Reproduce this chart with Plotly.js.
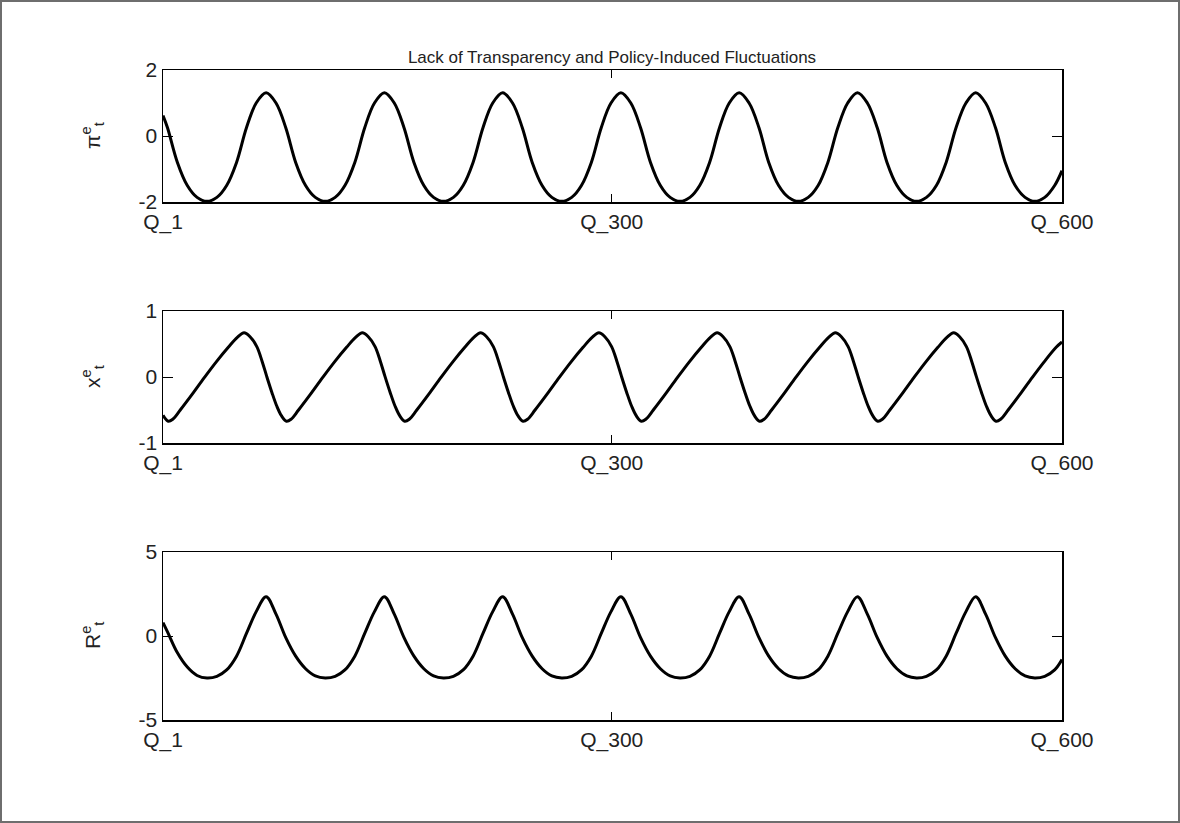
<!DOCTYPE html>
<html><head><meta charset="utf-8">
<script src="https://cdn.plot.ly/plotly-3.0.1.min.js"></script>
<style>
html,body{margin:0;padding:0;background:#fff;}
#chart{width:1180px;height:823px;}
#frame{position:absolute;left:0;top:0;width:1180px;height:823px;box-sizing:border-box;border:2px solid #6e6e6e;pointer-events:none;}
</style></head><body>
<div id="chart"></div><div id="frame"></div>
<script>
// Quarter positions read for the pi and R panels
const quartersPiR = [1, 4.0, 10.6, 17.2, 23.7, 30.3, 36.9, 43.4, 50.0, 56.6, 63.1, 69.7, 76.3,
  82.8, 89.4, 96.0, 102.5, 109.1, 115.7, 122.2, 128.8, 135.4, 141.9, 148.5, 155.1,
  161.6, 168.2, 174.8, 181.3, 187.9, 194.5, 201.0, 207.6, 214.2, 220.7, 227.3, 233.9,
  240.4, 247.0, 253.6, 260.1, 266.7, 273.3, 279.8, 286.4, 293.0, 299.5, 306.1, 312.7,
  319.2, 325.8, 332.4, 338.9, 345.5, 352.1, 358.6, 365.2, 371.8, 378.3, 384.9, 391.5,
  398.1, 404.6, 411.2, 417.8, 424.3, 430.9, 437.5, 444.0, 450.6, 457.2, 463.7, 470.3,
  476.9, 483.4, 490.0, 496.6, 503.1, 509.7, 516.3, 522.8, 529.4, 536.0, 542.5, 549.1,
  555.7, 562.2, 568.8, 575.4, 581.9, 588.5, 595.1, 600];

const piValues = [0.62,
  0.25, -0.8, -1.5, -1.86, -1.98, -1.86, -1.5, -0.8, 0.25, 1.0, 1.31, 1.0,
  0.25, -0.8, -1.5, -1.86, -1.98, -1.86, -1.5, -0.8, 0.25, 1.0, 1.31, 1.0,
  0.25, -0.8, -1.5, -1.86, -1.98, -1.86, -1.5, -0.8, 0.25, 1.0, 1.31, 1.0,
  0.25, -0.8, -1.5, -1.86, -1.98, -1.86, -1.5, -0.8, 0.25, 1.0, 1.31, 1.0,
  0.25, -0.8, -1.5, -1.86, -1.98, -1.86, -1.5, -0.8, 0.25, 1.0, 1.31, 1.0,
  0.25, -0.8, -1.5, -1.86, -1.98, -1.86, -1.5, -0.8, 0.25, 1.0, 1.31, 1.0,
  0.25, -0.8, -1.5, -1.86, -1.98, -1.86, -1.5, -0.8, 0.25, 1.0, 1.31, 1.0,
  0.25, -0.8, -1.5, -1.86, -1.98, -1.86, -1.5,
  -1.05];

const rValues = [0.8,
  0.25, -1.0, -1.85, -2.35, -2.5, -2.4, -2.02, -1.2, 0.15, 1.45, 2.34, 1.3,
  -0.1, -1.2, -1.95, -2.38, -2.5, -2.4, -2.02, -1.2, 0.15, 1.45, 2.34, 1.3,
  -0.1, -1.2, -1.95, -2.38, -2.5, -2.4, -2.02, -1.2, 0.15, 1.45, 2.34, 1.3,
  -0.1, -1.2, -1.95, -2.38, -2.5, -2.4, -2.02, -1.2, 0.15, 1.45, 2.34, 1.3,
  -0.1, -1.2, -1.95, -2.38, -2.5, -2.4, -2.02, -1.2, 0.15, 1.45, 2.34, 1.3,
  -0.1, -1.2, -1.95, -2.38, -2.5, -2.4, -2.02, -1.2, 0.15, 1.45, 2.34, 1.3,
  -0.1, -1.2, -1.95, -2.38, -2.5, -2.4, -2.02, -1.2, 0.15, 1.45, 2.34, 1.3,
  -0.1, -1.2, -1.95, -2.38, -2.5, -2.4, -2.02,
  -1.4];

// Quarter positions read for the x (output gap) panel
const quartersX = [1,
  4.5, 7.5, 12.5, 20.5, 28.5, 36.5, 44.5, 50.5, 55.0, 59.0, 63.5, 67.0, 70.1, 73.5, 76.8, 80.0,
  83.3, 86.3, 91.3, 99.3, 107.3, 115.3, 123.3, 129.3, 133.8, 137.8, 142.3, 145.8, 148.9, 152.3, 155.6, 158.8,
  162.1, 165.1, 170.1, 178.1, 186.1, 194.1, 202.1, 208.1, 212.6, 216.6, 221.1, 224.6, 227.7, 231.1, 234.4, 237.6,
  240.9, 243.9, 248.9, 256.9, 264.9, 272.9, 280.9, 286.9, 291.4, 295.4, 299.9, 303.4, 306.5, 309.9, 313.2, 316.4,
  319.7, 322.7, 327.7, 335.7, 343.7, 351.7, 359.7, 365.7, 370.2, 374.2, 378.7, 382.2, 385.3, 388.7, 392.0, 395.2,
  398.5, 401.5, 406.5, 414.5, 422.5, 430.5, 438.5, 444.5, 449.0, 453.0, 457.5, 461.0, 464.1, 467.5, 470.8, 474.0,
  477.3, 480.3, 485.3, 493.3, 501.3, 509.3, 517.3, 523.3, 527.8, 531.8, 536.3, 539.8, 542.9, 546.3, 549.6, 552.8,
  556.1, 559.1, 564.1, 572.1, 580.1, 588.1, 596.1, 600];

const xValues = [-0.58,
  -0.67, -0.64, -0.50, -0.26, -0.01, 0.23, 0.45, 0.60, 0.67, 0.61, 0.46, 0.24, 0.01, -0.23, -0.44, -0.59,
  -0.67, -0.64, -0.50, -0.26, -0.01, 0.23, 0.45, 0.60, 0.67, 0.61, 0.46, 0.24, 0.01, -0.23, -0.44, -0.59,
  -0.67, -0.64, -0.50, -0.26, -0.01, 0.23, 0.45, 0.60, 0.67, 0.61, 0.46, 0.24, 0.01, -0.23, -0.44, -0.59,
  -0.67, -0.64, -0.50, -0.26, -0.01, 0.23, 0.45, 0.60, 0.67, 0.61, 0.46, 0.24, 0.01, -0.23, -0.44, -0.59,
  -0.67, -0.64, -0.50, -0.26, -0.01, 0.23, 0.45, 0.60, 0.67, 0.61, 0.46, 0.24, 0.01, -0.23, -0.44, -0.59,
  -0.67, -0.64, -0.50, -0.26, -0.01, 0.23, 0.45, 0.60, 0.67, 0.61, 0.46, 0.24, 0.01, -0.23, -0.44, -0.59,
  -0.67, -0.64, -0.50, -0.26, -0.01, 0.23, 0.45, 0.60, 0.67, 0.61, 0.46, 0.24, 0.01, -0.23, -0.44, -0.59,
  -0.67, -0.64, -0.50, -0.26, -0.01, 0.23, 0.45, 0.53];

const tickQuarters = [1, 300, 600];
const tickLabels = ['Q_1', 'Q_300', 'Q_600'];
const piTicks = [-2, 0, 2];
const xTicks = [-1, 0, 1];
const rTicks = [-5, 0, 5];
const panelLabels = ['π<sup>e</sup><sub>t</sub>', 'x<sup>e</sup><sub>t</sub>', 'R<sup>e</sup><sub>t</sub>'];
const chartTitle = 'Lack of Transparency and Policy-Induced Fluctuations';

const W = 1180, H = 823;
const FONT = 'Liberation Sans, Arial, Helvetica, sans-serif';
const TXT = '#222';
const xDom = [163 / W, 1062 / W];
const panels = [[70, 202], [311, 443], [552, 720]]; // pixel top/bottom
const yDoms = panels.map(p => [1 - p[1] / H, 1 - p[0] / H]);

function lineTrace(x, y, xa, ya) {
  return {x: x, y: y, xaxis: xa, yaxis: ya, type: 'scatter', mode: 'lines',
    line: {color: '#000', width: 3, shape: 'spline', smoothing: 1}, hoverinfo: 'skip', showlegend: false};
}

const data = [
  lineTrace(quartersPiR, piValues, 'x', 'y'),
  lineTrace(quartersX, xValues, 'x2', 'y2'),
  lineTrace(quartersPiR, rValues, 'x3', 'y3')
];

function xAxis(anchor) {
  return {domain: xDom, range: [1, 600], anchor: anchor, tickmode: 'array',
    tickvals: tickQuarters, ticktext: tickLabels, ticks: 'inside', ticklen: 8,
    tickcolor: '#000', tickwidth: 1, showline: true, linecolor: '#000', linewidth: 1.5,
    mirror: 'ticks', showgrid: false, zeroline: false, automargin: false,
    tickfont: {family: FONT, size: 21, color: TXT}};
}
function yAxis(anchor, dom, ticks) {
  return {domain: dom, range: [ticks[0], ticks[2]], anchor: anchor, tickmode: 'array',
    tickvals: ticks, ticktext: ticks.map(String), ticks: 'inside', ticklen: 10,
    tickcolor: '#000', tickwidth: 1, showline: true, linecolor: '#000', linewidth: 1.5,
    mirror: 'ticks', showgrid: false, zeroline: false, automargin: false,
    tickfont: {family: FONT, size: 21, color: TXT}};
}

const annotations = panelLabels.map((t, i) => ({
  text: t, xref: 'paper', yref: 'paper', x: 92 / W,
  y: (yDoms[i][0] + yDoms[i][1]) / 2, xanchor: 'center', yanchor: 'middle',
  textangle: -90, showarrow: false, font: {family: FONT, size: 21, color: TXT}
}));

const layout = {
  width: W, height: H, margin: {l: 0, r: 0, t: 0, b: 0},
  paper_bgcolor: '#fff', plot_bgcolor: '#fff',
  title: {text: chartTitle, xref: 'paper', yref: 'paper', x: 612 / W, xanchor: 'center',
    y: 1 - 57 / H, yanchor: 'middle', font: {family: FONT, size: 17, color: TXT}},
  xaxis: xAxis('y'), yaxis: yAxis('x', yDoms[0], piTicks),
  xaxis2: xAxis('y2'), yaxis2: yAxis('x2', yDoms[1], xTicks),
  xaxis3: xAxis('y3'), yaxis3: yAxis('x3', yDoms[2], rTicks),
  annotations: annotations, showlegend: false
};

Plotly.newPlot('chart', data, layout, {displayModeBar: false, staticPlot: true});
</script></body></html>
